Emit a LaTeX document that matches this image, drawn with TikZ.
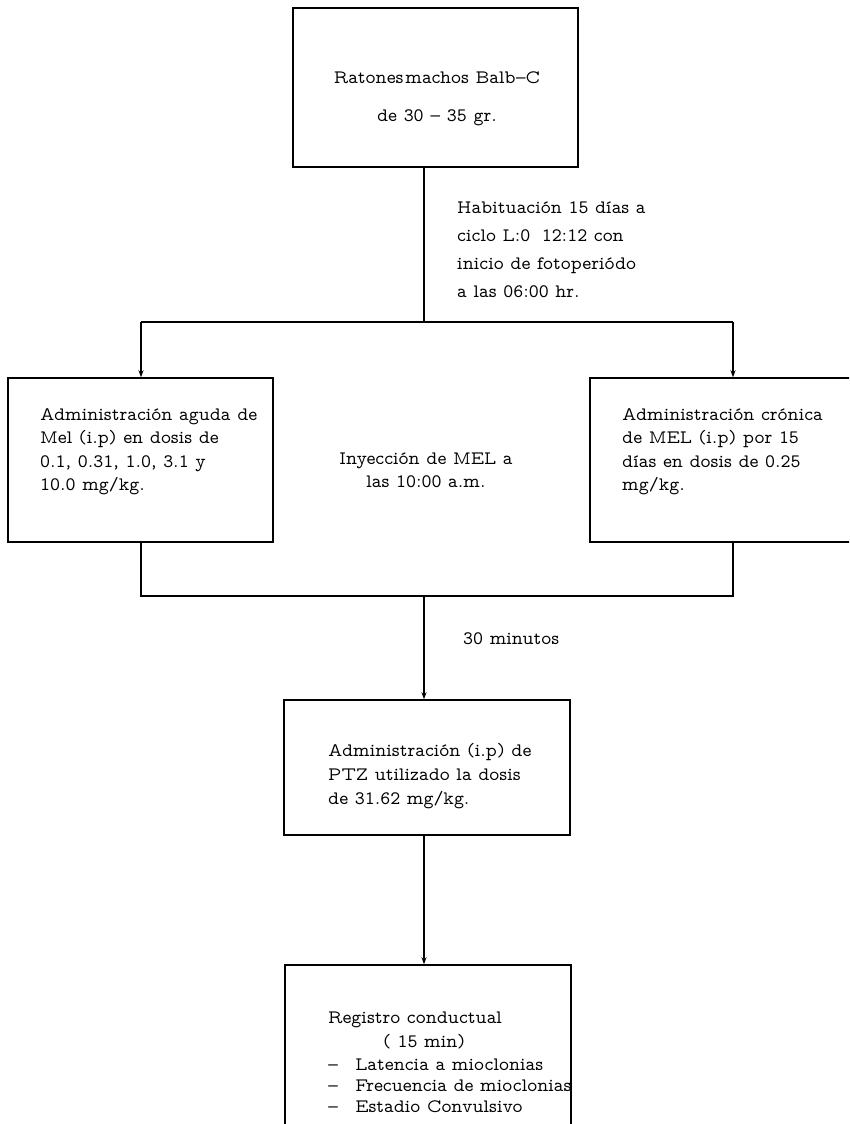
\documentclass[tikz,border=0pt]{standalone}
\usetikzlibrary{arrows.meta}
\newcommand\myfont{\fontfamily{lmvtt}\fontsize{19}{23}\selectfont}
\begin{document}
\begin{tikzpicture}[x=1pt,y=-1pt,
  box/.style={draw, line width=1.5pt, inner sep=0pt, rectangle},
  conn/.style={line width=1.4pt},
  arr/.style={conn, -{Stealth[length=7pt,width=5pt]}},
  txt/.style={anchor=base west, inner sep=0pt, font=\myfont},
  ctxt/.style={anchor=base, inner sep=0pt, font=\myfont}]
\clip (0,0) rectangle (849,1124);
\fill[white] (0,0) rectangle (849,1124);
% boxes
\node[box, minimum width=285pt, minimum height=159pt] (top) at (435.5,87.5) {};
\node[box, minimum width=265pt, minimum height=164pt] (left) at (140.5,460) {};
\node[box, minimum width=286pt, minimum height=164pt] (right) at (733,460) {};
\node[box, minimum width=286pt, minimum height=135pt] (ptz) at (427,767.5) {};
\node[box, minimum width=286pt, minimum height=175pt] (reg) at (428,1052.5) {};
% texts
\node[ctxt] (t1) at (437,84) {Ratones\hspace{0.1em}machos Balb–C};
\node[ctxt] (t2) at (437,121) {de 30 – 35 gr.};
\node[txt] (h1) at (457,213) {Habituación 15 días a};
\node[txt] (h2) at (457,241) {ciclo L:0\hspace{0.6em}12:12 con};
\node[txt] (h3) at (457,269) {inicio de fotoperiódo};
\node[txt] (h4) at (457,297) {a las 06:00 hr.};
\node[txt] (l1) at (40,420) {Administración aguda de};
\node[txt] (l2) at (40,443) {Mel (i.p) en dosis de};
\node[txt] (l3) at (40,467) {0.1, 0.31, 1.0, 3.1 y};
\node[txt] (l4) at (40,490) {10.0 mg/kg.};
\node[ctxt] (i1) at (426,464) {Inyección de MEL a};
\node[ctxt] (i2) at (426,487) {las 10:00 a.m.};
\node[txt] (r1) at (622,420) {Administración crónica};
\node[txt] (r2) at (622,443) {de MEL (i.p) por 15};
\node[txt] (r3) at (622,467) {días en dosis de 0.25};
\node[txt] (r4) at (622,490) {mg/kg.};
\node[txt] (m30) at (463,644) {30 minutos};
\node[txt] (p1) at (328,756) {Administración (i.p) de};
\node[txt] (p2) at (328,780) {PTZ utilizado la dosis};
\node[txt] (p3) at (328,804) {de 31.62 mg/kg.};
\node[txt] (g1) at (328,1023) {Registro conductual};
\node[txt] (g2) at (383,1047) {( 15 min)};
\node[txt] (g3) at (328,1070) {–\hspace{0.9em}Latencia a mioclonias};
\node[txt] (g4) at (328,1091) {–\hspace{0.9em}Frecuencia de mioclonias};
\node[txt] (g5) at (328,1112) {–\hspace{0.9em}Estadio Convulsivo};
% connectors
\coordinate (sL) at (141,322);
\coordinate (sM) at (424,322);
\coordinate (sR) at (733,322);
\draw[conn] (top.south -| sM) -- (sM);
\draw[conn] (sL) -- (sR);
\draw[arr] (sL) -- (sL |- left.north);
\draw[arr] (sR) -- (sR |- right.north);
\coordinate (jL) at (141,596);
\coordinate (jM) at (424,596);
\coordinate (jR) at (733,596);
\draw[conn] (left.south -| jL) -- (jL) -- (jR) -- (right.south -| jR);
\draw[arr] (jM) -- (jM |- ptz.north);
\draw[arr] (ptz.south -| jM) -- (jM |- reg.north);
\end{tikzpicture}
\end{document}
